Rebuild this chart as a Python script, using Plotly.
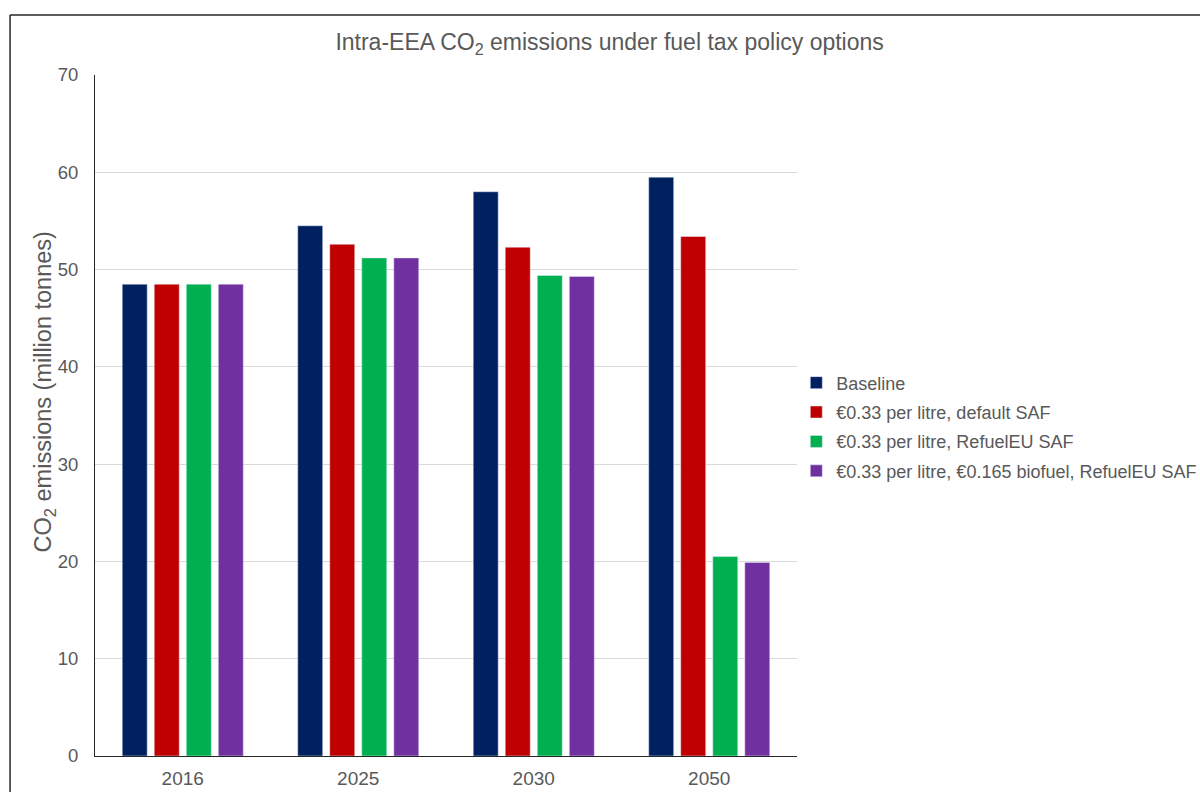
import plotly.graph_objects as go

years = ["2016", "2025", "2030", "2050"]
series_names = [
    "Baseline",
    "€0.33 per litre, default SAF",
    "€0.33 per litre, RefuelEU SAF",
    "€0.33 per litre, €0.165 biofuel, RefuelEU SAF",
]
baseline = [48.5, 54.5, 58.0, 59.5]
default_saf = [48.5, 52.6, 52.3, 53.4]
refueleu_saf = [48.5, 51.2, 49.4, 20.5]
biofuel_refueleu = [48.5, 51.2, 49.3, 19.9]
colors = ["#002060", "#C00000", "#00B050", "#7030A0"]

font_family = "Liberation Sans, Arial, sans-serif"
grey = "#595959"

fig = go.Figure()
for i, (name, vals) in enumerate(zip(series_names, [baseline, default_saf, refueleu_saf, biofuel_refueleu])):
    fig.add_trace(go.Bar(
        x=years, y=vals, name=name, marker_color=colors[i],
        legendgroup=f"g{i}",
    ))

fig.update_layout(
    width=1200, height=792,
    margin=dict(l=95, r=403, t=75, b=36, autoexpand=False),
    paper_bgcolor="white", plot_bgcolor="white",
    font=dict(family=font_family, color=grey, size=18),
    title=dict(text="Intra-EEA CO<sub>2</sub> emissions under fuel tax policy options",
               x=0.508, xref="container", xanchor="center", y=0.947, yanchor="middle",
               font=dict(size=23, color=grey)),
    barmode="group", bargap=0.27, bargroupgap=0.22,
    showlegend=True,
    legend=dict(x=0.999, xanchor="left", y=0.575, yanchor="top",
                font=dict(size=18, color=grey), tracegroupgap=3,
                traceorder="grouped", bgcolor="rgba(0,0,0,0)"),
    xaxis=dict(showline=True, linecolor="#262626", linewidth=1, ticks="",
               tickfont=dict(size=19, color=grey), ticklabelstandoff=5,
               showgrid=False),
    yaxis=dict(range=[0, 70], dtick=10, showline=True, linecolor="#262626", linewidth=1,
               gridcolor="#D9D9D9", gridwidth=1, ticks="", zeroline=False,
               tickfont=dict(size=18.5, color=grey), ticklabelstandoff=12),
    annotations=[
        dict(text="CO<sub>2</sub> emissions (million tonnes)", textangle=-90,
             xref="paper", yref="paper", x=-0.0726, y=0.534,
             xanchor="center", yanchor="middle", showarrow=False,
             font=dict(size=23.5, color=grey)),
    ],
    shapes=[
        dict(type="line", xref="paper", yref="paper", x0=-0.121, x1=-0.121, y0=-0.2, y1=1.0881,
             line=dict(color="#262626", width=1.5)),
        dict(type="line", xref="paper", yref="paper", x0=-0.121, x1=1.7, y0=1.0881, y1=1.0881,
             line=dict(color="#262626", width=1.5)),
    ],
)

fig.write_html("out.html")
